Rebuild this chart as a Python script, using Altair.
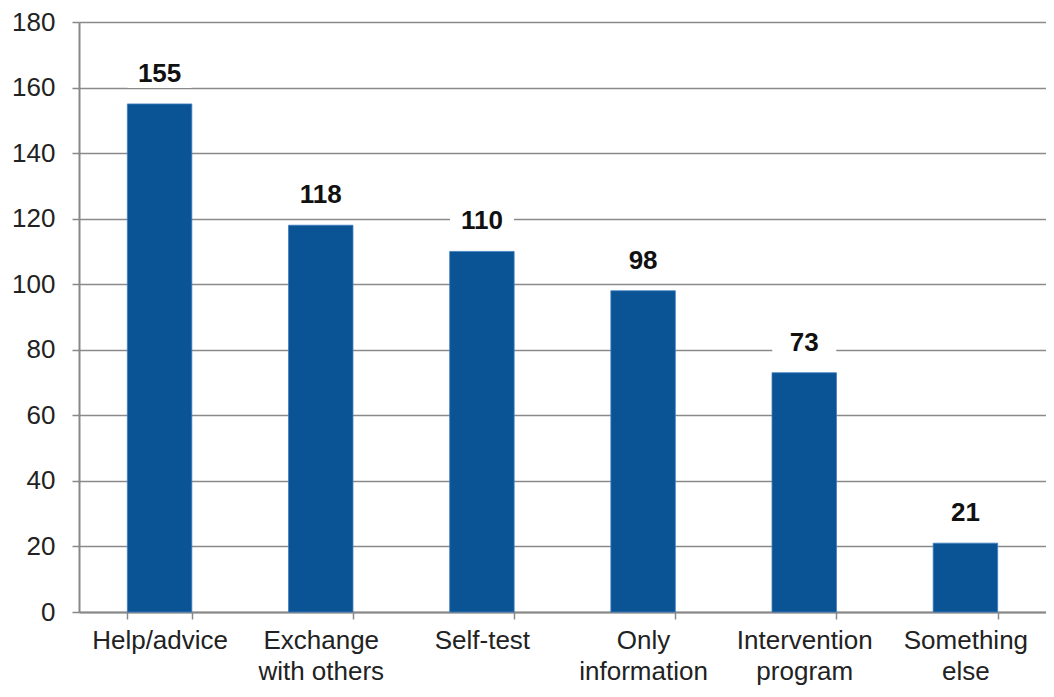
import altair as alt
import pandas as pd

categories = ["Help/advice", "Exchange|with others", "Self-test", "Only|information", "Intervention|program", "Something|else"]
values = [155, 118, 110, 98, 73, 21]

df = pd.DataFrame({"cat": categories, "value": values})

FONT = "Liberation Sans"
x = alt.X("cat:N", sort=categories, title=None,
          scale=alt.Scale(paddingInner=0.6, paddingOuter=0.3),
          axis=alt.Axis(labelExpr="split(datum.label, '|')", labelAngle=0,
                        labelFontSize=26, labelColor="#222", labelFont=FONT,
                        labelLineHeight=31, labelPadding=8, tickBand="extent",
                        tickSize=7, tickColor="#888", tickWidth=1.5,
                        domainColor="#888", domainWidth=2, grid=False))
y = alt.Y("value:Q", title=None,
          scale=alt.Scale(domain=[0, 180], nice=False),
          axis=alt.Axis(values=list(range(0, 181, 20)), labelFontSize=26,
                        labelColor="#222", labelFont=FONT, labelPadding=17,
                        tickSize=7, tickColor="#888", tickWidth=1.5,
                        domainColor="#888", domainWidth=2,
                        gridColor="#8a8a8a", gridWidth=1.5))

base = alt.Chart(df).encode(x=x, y=y)

bars = base.mark_bar(color="#0a5395", stroke="#3d7fc0", strokeWidth=0.8)
box = base.mark_rect(color="white", width=64, height=28, yOffset=-30)
labels = base.mark_text(fontSize=26, fontWeight="bold", font=FONT, color="#111",
                        dy=-30, baseline="middle").encode(text="value:Q")

chart = (bars + box + labels).properties(
    width=967, height=590,
    padding={"left": 71, "top": 14, "right": 0, "bottom": 80},
    autosize=alt.AutoSizeParams(type="none"),
).configure_view(stroke=None)

chart.save("out.html", embed_options={"renderer": "svg", "actions": False})
